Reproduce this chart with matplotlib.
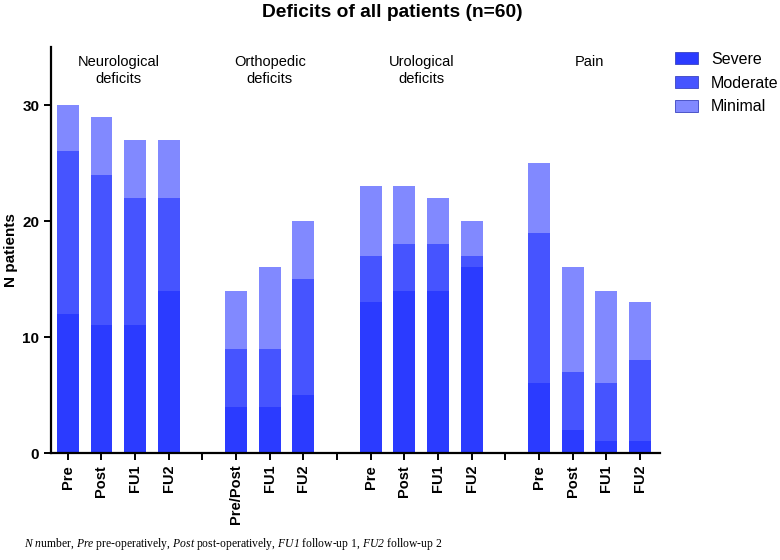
import matplotlib
matplotlib.use("Agg")
import matplotlib.pyplot as plt
import numpy as np
from matplotlib.patches import Patch

plt.rcParams['font.family'] = ['Liberation Sans', 'DejaVu Sans']
plt.rcParams['mathtext.fontset'] = 'custom'
plt.rcParams['mathtext.rm'] = 'Liberation Serif:italic'
plt.rcParams['mathtext.it'] = 'Liberation Serif:italic'

groups = ["Neurological\ndeficits", "Orthopedic\ndeficits", "Urological\ndeficits", "Pain"]
group_ticks = [["Pre", "Post", "FU1", "FU2"],
               ["Pre/Post", "FU1", "FU2"],
               ["Pre", "Post", "FU1", "FU2"],
               ["Pre", "Post", "FU1", "FU2"]]
severe = [[12, 11, 11, 14], [4, 4, 5], [13, 14, 14, 16], [6, 2, 1, 1]]
moderate = [[14, 13, 11, 8], [5, 5, 10], [4, 4, 4, 1], [13, 5, 5, 7]]
minimal = [[4, 5, 5, 5], [5, 7, 5], [6, 5, 4, 3], [6, 9, 8, 5]]
series_names = ["Severe", "Moderate", "Minimal"]
colors = ["#2b3bff", "#4654ff", "#8189ff"]

fig = plt.figure(figsize=(7.8, 5.6), dpi=100)
ax = fig.add_axes([0.0654, 0.191, 0.781, 0.725])

positions, labels, gap_ticks, centers = [], [], [], []
pos = 0
for gi, ticks in enumerate(group_ticks):
    start = pos
    for t in ticks:
        positions.append(pos)
        labels.append(t)
        pos += 1
    centers.append((start + pos - 1) / 2)
    if gi < len(group_ticks) - 1:
        gap_ticks.append(pos)
        pos += 1

sev = np.concatenate([np.array(s) for s in severe])
mod = np.concatenate([np.array(s) for s in moderate])
mini = np.concatenate([np.array(s) for s in minimal])
w = 0.65
bottom = np.zeros(len(sev))
for vals, c, n in zip([sev, mod, mini], colors, series_names):
    ax.bar(positions, vals, width=w, bottom=bottom, color=c, label=n, edgecolor='none')
    bottom = bottom + vals

ax.set_xlim(-0.5, 17.6)
ax.set_ylim(0, 35)
ax.set_yticks([0, 10, 20, 30])
all_ticks = positions + gap_ticks
all_labels = labels + [""] * len(gap_ticks)
ax.set_xticks(all_ticks)
ax.set_xticklabels(all_labels, rotation=90, fontweight='bold', fontsize=10.5)
for lab in ax.get_yticklabels():
    lab.set_fontweight('bold')
    lab.set_fontsize(11)
ax.spines['top'].set_visible(False)
ax.spines['right'].set_visible(False)
ax.spines['left'].set_linewidth(1.6)
ax.spines['bottom'].set_linewidth(1.6)
ax.tick_params(width=1.4, length=5, direction='out')
ax.set_ylabel("N patients", fontweight='bold', fontsize=11)
ax.yaxis.set_label_coords(0.023, 0.554, transform=fig.transFigure)

for c, g in zip(centers, groups):
    ax.text(c, 34.3, g, ha='center', va='top', fontsize=10.5, linespacing=1.25)

handles = [Patch(facecolor=c, edgecolor='#3a44c0', linewidth=0.6, label=n)
           for c, n in zip(colors, series_names)]
ax.legend(handles=handles, loc='upper left', bbox_to_anchor=(1.0246, 0.988),
          frameon=False, fontsize=11.5, handlelength=1.45, handleheight=0.75,
          labelspacing=0.55, handletextpad=0.8, borderaxespad=0, borderpad=0)

fig.text(0.503, 0.993, "Deficits of all patients (n=60)", ha='center', va='top',
         fontweight='bold', fontsize=13.8)

caption = (r"$N$ $n$umber, $Pre$ pre-operatively, "
           r"$Post$ post-operatively, $FU1$ follow-up 1, "
           r"$FU2$ follow-up 2")
fig.text(0.031, 0.014, caption, ha='left', va='bottom', fontsize=8.4,
         family='Liberation Serif')

fig.savefig("out.png", dpi=100)
